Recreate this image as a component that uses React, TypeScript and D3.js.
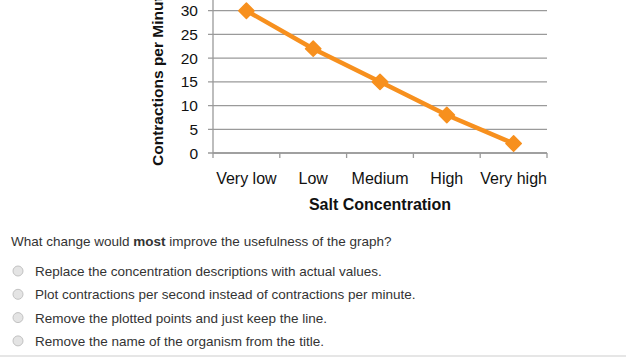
import React from 'react';
import * as d3 from 'd3';

const categories = ['Very low', 'Low', 'Medium', 'High', 'Very high'];
const contractions = [30, 22, 15, 8, 2];
const yTicks = [0, 5, 10, 15, 20, 25, 30];

const question = 'What change would ';
const questionBold = 'most';
const questionEnd = ' improve the usefulness of the graph?';
const options = [
  'Replace the concentration descriptions with actual values.',
  'Plot contractions per second instead of contractions per minute.',
  'Remove the plotted points and just keep the line.',
  'Remove the name of the organism from the title.'
];

const WIDTH = 626;
const HEIGHT = 363;
const plot = { left: 213, right: 547, top: -13, bottom: 153 };
const ORANGE = '#f7901e';
const FONT = 'Liberation Sans, Arial, sans-serif';

export default function App() {
  const xScale = d3
    .scaleBand()
    .domain(categories)
    .range([plot.left, plot.right]);

  const yScale = d3
    .scaleLinear()
    .domain([0, 35])
    .range([plot.bottom, plot.top]);

  const line = d3
    .line<number>()
    .x((d, i) => (xScale(categories[i]) || 0) + xScale.bandwidth() / 2)
    .y(d => yScale(d));

  const diamond = d3.symbol().type(d3.symbolDiamond2).size(150)();

  // tick positions on the x axis: band edges
  const xEdges = categories.map(c => xScale(c) || 0).concat([plot.right]);

  return (
    <svg
      width={WIDTH}
      height={HEIGHT}
      style={{ position: 'absolute', left: 0, top: 0, background: '#fff' }}
      fontFamily={FONT}
    >
      {/* grid */}
      <g>
        {yTicks.map(t => (
          <g key={t}>
            <line
              x1={plot.left - 5}
              x2={plot.right}
              y1={yScale(t)}
              y2={yScale(t)}
              stroke="#9a9a9a"
              strokeWidth={1.3}
            />
            <text
              x={plot.left - 15}
              y={yScale(t) + 5.5}
              textAnchor="end"
              fontSize={15.5}
              fill="#111"
            >
              {t}
            </text>
          </g>
        ))}
      </g>

      {/* axes */}
      <line x1={plot.left} x2={plot.left} y1={0} y2={plot.bottom} stroke="#9a9a9a" strokeWidth={1.3} />
      <line x1={plot.left} x2={plot.right} y1={plot.bottom} y2={plot.bottom} stroke="#9a9a9a" strokeWidth={1.3} />
      {xEdges.map((x, i) => (
        <line key={i} x1={x} x2={x} y1={plot.bottom} y2={plot.bottom + 5} stroke="#9a9a9a" strokeWidth={1.3} />
      ))}
      {categories.map(c => (
        <text
          key={c}
          x={(xScale(c) || 0) + xScale.bandwidth() / 2}
          y={184}
          textAnchor="middle"
          fontSize={16}
          fill="#111"
        >
          {c}
        </text>
      ))}

      {/* axis titles */}
      <text x={380} y={210} textAnchor="middle" fontSize={16} fontWeight="bold" fill="#111">
        Salt Concentration
      </text>
      <text
        transform="translate(163,166) rotate(-90)"
        textAnchor="start"
        fontSize={15.5}
        fontWeight="bold"
        fill="#111"
      >
        Contractions per Minute
      </text>

      {/* series */}
      <path d={line(contractions) || ''} fill="none" stroke={ORANGE} strokeWidth={4.5} />
      {contractions.map((v, i) => (
        <path
          key={i}
          d={diamond || ''}
          transform={`translate(${(xScale(categories[i]) || 0) + xScale.bandwidth() / 2},${yScale(v)})`}
          fill={ORANGE}
          stroke={ORANGE}
          strokeWidth={1.5}
          strokeLinejoin="round"
        />
      ))}

      {/* question */}
      <text x={11} y={246} fontSize={13.5} fill="#333">
        {question}
        <tspan fontWeight="bold">{questionBold}</tspan>
        {questionEnd}
      </text>
      {options.map((o, i) => {
        const y = 272 + i * 23.3;
        return (
          <g key={i}>
            <circle cx={18} cy={y - 1} r={5} fill="#e4e4e4" stroke="#c2c2c2" strokeWidth={1} />
            <text x={35} y={y + 4} fontSize={13.5} fill="#333">
              {o}
            </text>
          </g>
        );
      })}
      <line x1={0} x2={WIDTH} y1={356} y2={356} stroke="#e6e6e6" strokeWidth={2} />
    </svg>
  );
}
